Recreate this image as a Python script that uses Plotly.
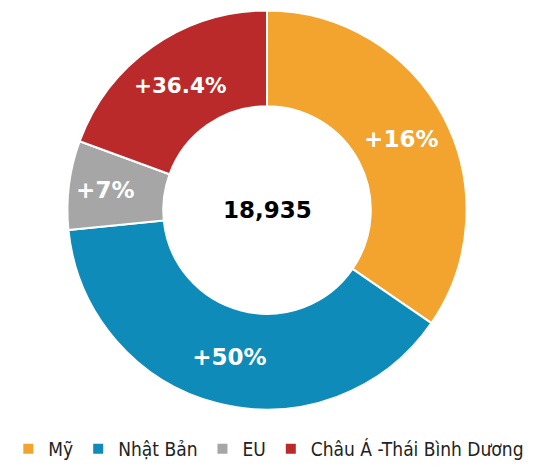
import plotly.graph_objects as go

regions = ["Mỹ", "Nhật Bản", "EU", "Châu Á -Thái Bình Dương"]
values = [6551, 7347, 1363, 3674]
growth_labels = ["+16%", "+50%", "+7%", "+36.4%"]
colors = ["#F2A42E", "#0E8BB8", "#A6A6A6", "#BA2A2A"]
total_label = "18,935"

W, H = 528, 460

fig = go.Figure()
fig.add_trace(go.Pie(
    labels=regions,
    values=values,
    text=growth_labels,
    textinfo="text",
    textposition="inside",
    insidetextorientation="horizontal",
    textfont=dict(family="DejaVu Sans", size=23, color="white", weight="bold"),
    hole=0.52,
    sort=False,
    direction="clockwise",
    rotation=0,
    marker=dict(colors=colors, line=dict(color="white", width=2)),
    domain=dict(x=[0.1042, 0.8769], y=[0.1076, 0.9946]),
    hoverinfo="label+value",
))

fig.add_annotation(
    text=total_label, x=259 / W, y=1 - 206 / H, xref="paper", yref="paper",
    showarrow=False, font=dict(family="DejaVu Sans", size=23, color="black", weight="bold"),
)

fig.update_layout(
    width=W, height=H,
    margin=dict(l=0, r=0, t=0, b=0),
    paper_bgcolor="white", plot_bgcolor="white",
    showlegend=True,
    legend=dict(
        orientation="h", x=0.494, xanchor="center", y=1 - 451 / H, yanchor="middle",
        font=dict(family="DejaVu Sans Condensed, DejaVu Sans", size=19, color="#222222"),
        itemsizing="constant", traceorder="normal", itemwidth=30,
    ),
)

fig.write_html("out.html")
